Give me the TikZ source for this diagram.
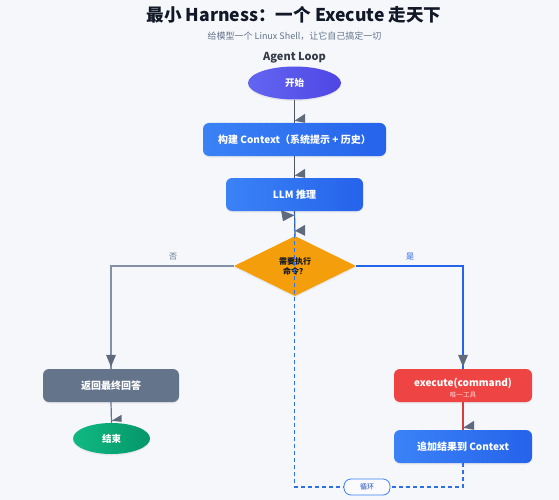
\documentclass[tikz,border=0pt]{standalone}
\usepackage{fontspec}
\setmainfont{Noto Sans CJK SC}
\usetikzlibrary{shapes.geometric,shadows}
\definecolor{bgc}{HTML}{F5F7FB}
\definecolor{titlec}{HTML}{111827}
\definecolor{subc}{HTML}{64748B}
\definecolor{blueA}{HTML}{3B82F6}
\definecolor{blueB}{HTML}{2563EB}
\definecolor{purA}{HTML}{6366F1}
\definecolor{purB}{HTML}{4F46E5}
\definecolor{greenA}{HTML}{10B981}
\definecolor{greenB}{HTML}{059669}
\definecolor{slatec}{HTML}{64748B}
\definecolor{redc}{HTML}{EF4444}
\definecolor{orangec}{HTML}{F59E0B}
\definecolor{tipc}{HTML}{5F6B7D}
\definecolor{darkline}{HTML}{4B5563}
\definecolor{greyline}{HTML}{8490A3}
\definecolor{loopc}{HTML}{2F6FE6}
\begin{document}
\begin{tikzpicture}[x=1pt,y=-1pt,
  shd/.style={drop shadow={opacity=0.12,shadow xshift=0pt,shadow yshift=-1.5pt}},
  box/.style={shd,rounded corners=6pt,minimum height=33pt,inner sep=0pt,text=white,
    font=\fontsize{10}{12}\selectfont\bfseries},
  bluebox/.style={box,left color=blueA,right color=blueB},
  oval/.style={shd,ellipse,inner sep=0pt,text=white,font=\fontsize{9.5}{11}\selectfont\bfseries},
  conn/.style={line width=1.2pt},
  tipfill/.style={fill=tipc},
  lbl/.style={font=\fontsize{8}{10}\selectfont}]
\fill[bgc] (0,0) rectangle (559,500);
\useasboundingbox (0,0) rectangle (559,500);

\node[text=titlec,font=\fontsize{17.6}{20}\selectfont\bfseries] (title) at (294,15) {最小 Harness：一个 Execute 走天下};
\node[text=subc,font=\fontsize{9}{10}\selectfont] (sub) at (294.5,36) {给模型一个 Linux Shell，让它自己搞定一切};
\node[text=titlec!85,font=\fontsize{11}{13}\selectfont\bfseries] (loopt) at (294.5,58) {Agent Loop};

\node[oval,minimum width=93pt,minimum height=33pt,left color=purA,right color=purB] (start) at (294.5,83) {开始};
\node[bluebox,minimum width=183pt] (build) at (294.5,139.5) {构建 Context（系统提示 + 历史）};
\node[bluebox,minimum width=137pt] (llm) at (294.5,194.5) {LLM 推理};
\node[shd,diamond,aspect=2,minimum width=122pt,minimum height=60pt,inner sep=0pt,fill=orangec,
  text=titlec,align=center,font=\fontsize{8}{10}\selectfont\bfseries] (dia) at (295,266) {需要执行\\命令？};
\node[box,minimum width=136pt,fill=slatec] (ret) at (111,385.5) {返回最终回答};
\node[oval,minimum width=77pt,minimum height=31pt,left color=greenA,right color=greenB] (end) at (111.5,438.5) {结束};
\node[box,minimum width=138pt,minimum height=33pt,fill=redc] (exe) at (463,385.5) {};
\node[text=white,inner sep=0pt,font=\fontsize{10}{12}\selectfont\bfseries] (exetxt) at ([yshift=2pt]exe.center) {execute(command)};
\node[text=red!20,inner sep=0pt,font=\fontsize{6.7}{8}\selectfont] (exesub) at ([yshift=-9.5pt]exe.center) {唯一工具};
\node[bluebox,minimum width=138pt] (app) at (463,446.5) {追加结果到 Context};

% connectors
\draw[conn,darkline] (start.south) -- (build.north);
\draw[conn,darkline] (build.south) -- (llm.north);
\draw[conn,darkline] (llm.south) -- (dia.north);
\draw[conn,greyline] (dia.west) -| (ret.north);
\draw[conn,blueB] (dia.east) -| (exe.north);
\draw[conn,slatec] (ret.south) -- (end.north);
\draw[conn,redc!90!black] (exe.south) -- (app.north);
\node[lbl,text=subc] (no) at (173,257) {否};
\node[lbl,text=blueB] (yes) at (410,257) {是};

% loop
\coordinate (lp) at (294.5,487);
\draw[line width=1.5pt,loopc,dash pattern=on 4pt off 3pt] (app.south) |- (lp) -- (llm.south);
\node[draw=blueA,line width=0.8pt,fill=white!70!blue!6,rounded corners=7pt,minimum width=46pt,minimum height=16pt,
  inner sep=0pt,text=blueB!80!black,font=\fontsize{7}{8}\selectfont] (loopl) at (367,487) {循环};

% arrow tips
\fill[tipfill] ([shift={(0,-2)}]build.north) -- ([shift={(10.5,-9)}]build.north) -- ([shift={(10.5,0)}]build.north) -- cycle;
\fill[tipfill] ([shift={(0,-2)}]llm.north) -- ([shift={(10.5,-9)}]llm.north) -- ([shift={(10.5,0)}]llm.north) -- cycle;
\fill[tipfill] ([shift={(0,-5)}]dia.north) -- ([shift={(10,-11)}]dia.north) -- ([shift={(10,0)}]dia.north) -- cycle;
\fill[tipfill] ([shift={(-13.5,-1)}]llm.south) -- ([shift={(-11.5,10)}]llm.south) -- ([shift={(0,4)}]llm.south) -- cycle;
\fill[tipfill] ([shift={(-5,-14)}]ret.north) -- ([shift={(5,-14)}]ret.north) -- ([shift={(0,-2)}]ret.north) -- cycle;
\fill[tipfill] ([shift={(-5,-14)}]exe.north) -- ([shift={(5,-14)}]exe.north) -- ([shift={(0,-2)}]exe.north) -- cycle;
\fill[tipfill] ([shift={(0,-2)}]end.north) -- ([shift={(10,-8)}]end.north) -- ([shift={(10,-1)}]end.north) -- cycle;
\fill[tipfill] ([shift={(0,-2)}]app.north) -- ([shift={(11,-9)}]app.north) -- ([shift={(11,0)}]app.north) -- cycle;
\end{tikzpicture}
\end{document}
